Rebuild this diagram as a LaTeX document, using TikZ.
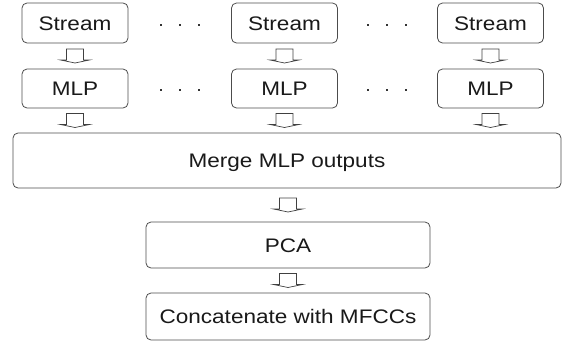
\documentclass[tikz,border=0pt]{standalone}
\usepackage{fontspec}
\setmainfont{Liberation Sans}
\usetikzlibrary{calc}
\newcommand\widetxt[1]{\scalebox{1.15}[1]{#1}}
\begin{document}
\begin{tikzpicture}[x=1pt,y=1pt,
  box/.style={draw=black!70, line width=0.8pt, rounded corners=5pt,
    text=black!90, font=\fontsize{19.6}{21}\selectfont,
    text height=14pt, text depth=0pt, inner sep=0pt, align=center},
  smallbox/.style={box, minimum width=106pt, minimum height=40pt},
  dotmark/.style={fill=black!80, inner sep=0pt, minimum size=2.6pt},
  barrow/.pic={\draw[black!75, line width=0.7pt, line join=miter]
     (-8.5,7) -- (8.5,7) -- (8.5,-4) -- (14.5,-4) -- (0,-7) -- (-14.5,-4) -- (-8.5,-4) -- cycle;}
]
\useasboundingbox (0,0) rectangle (563,-343);
% streams
\node[smallbox] (s1) at (75,-23) {\widetxt{Stream}};
\node[smallbox] (s2) at (284.5,-23) {\widetxt{Stream}};
\node[smallbox] (s3) at (490.5,-23) {\widetxt{Stream}};
% MLPs
\node[smallbox, minimum height=39pt] (m1) at (75,-88.5) {\widetxt{MLP}};
\node[smallbox, minimum height=39pt] (m2) at (284.5,-88.5) {\widetxt{MLP}};
\node[smallbox, minimum height=39pt] (m3) at (490.5,-88.5) {\widetxt{MLP}};
% merge, pca, concat
\node[box, minimum width=548pt, minimum height=55pt] (mg) at (287,-160.5) {\widetxt{Merge MLP outputs}};
\node[box, minimum width=284pt, minimum height=46pt] (pca) at (288,-245) {\widetxt{PCA}};
\node[box, minimum width=284pt, minimum height=47pt] (cc) at (288,-316.5) {\widetxt{Concatenate with MFCCs}};
% dots
\foreach \r/\y in {a/-25,b/-90}{
  \foreach \i/\x in {1/161,2/180,3/199,4/368,5/387,6/406}{
    \node[dotmark] (d\r\i) at (\x,\y) {};
  }
}
% block arrows
\path (s1.south) -- pic[pos=0.5]{barrow} (m1.north);
\path (s2.south) -- pic[pos=0.5]{barrow} (m2.north);
\path (s3.south) -- pic[pos=0.5]{barrow} (m3.north);
\path (m1.south) -- pic[pos=0.5]{barrow} (m1.south |- mg.north);
\path (m2.south) -- pic[pos=0.5]{barrow} (m2.south |- mg.north);
\path (m3.south) -- pic[pos=0.5]{barrow} (m3.south |- mg.north);
\path (mg.south -| pca.north) -- pic[pos=0.5]{barrow} (pca.north);
\path (pca.south) -- pic[pos=0.5]{barrow} (cc.north);
\end{tikzpicture}
\end{document}
